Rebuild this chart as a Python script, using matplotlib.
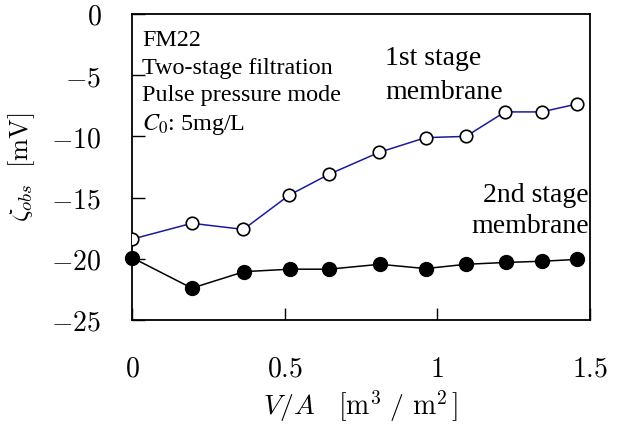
import matplotlib
matplotlib.use("Agg")
import matplotlib.pyplot as plt

plt.rcParams['mathtext.fontset'] = 'cm'

# Data
va_first = [0.0, 0.196, 0.365, 0.515, 0.645, 0.81, 0.962, 1.094, 1.222, 1.342, 1.458]
zeta_first = [-18.4, -17.1, -17.6, -14.8, -13.1, -11.3, -10.1, -10.0, -8.0, -8.0, -7.35]
va_second = [0.0, 0.196, 0.368, 0.517, 0.645, 0.812, 0.962, 1.094, 1.224, 1.344, 1.459]
zeta_second = [-19.9, -22.4, -21.05, -20.85, -20.85, -20.45, -20.8, -20.45, -20.3, -20.2, -20.05]

xticks = [0, 0.5, 1.0, 1.5]
xticklabels = ['0', '0.5', '1', '1.5']
yticks = [0, -5, -10, -15, -20, -25]
yticklabels = ['0', '-5', '-10', '-15', '-20', '-25']

fig = plt.figure(figsize=(6.19, 4.32), dpi=100)
ax = fig.add_axes([0.2132, 0.2593, 0.953 - 0.2132, 0.9676 - 0.2593])

ax.plot(va_first, zeta_first, '-', color='#1a1a9c', lw=1.1, zorder=2)
ax.plot(va_first, zeta_first, 'o', mfc='white', mec='black', mew=1.2, ms=9, zorder=3)
ax.plot(va_second, zeta_second, '-', color='black', lw=1.1, zorder=2)
ax.plot(va_second, zeta_second, 'o', mfc='black', mec='black', ms=10, zorder=3, clip_on=False)

ax.set_xlim(0, 1.5)
ax.set_ylim(-25, 0)
ax.set_xticks(xticks)
ax.set_xticklabels(['$' + t + '$' for t in xticklabels])
ax.set_yticks(yticks)
ax.set_yticklabels(['$' + t + '$' for t in yticklabels])
ax.tick_params(direction='in', length=9, width=1, labelsize=20, pad=22)
ax.tick_params(axis='x', pad=25)
for s in ax.spines.values():
    s.set_linewidth(1.3)

ax.set_xlabel(r'$V/A\quad[\mathrm{m}^{3}\ /\ \mathrm{m}^{2}\,]$', fontsize=20, labelpad=4)
ax.set_ylabel(r'$\zeta_{obs}\ \ [\mathrm{mV}]$', fontsize=19, labelpad=10)

serif = ['Liberation Serif', 'DejaVu Serif']
info = ['FM22', 'Two-stage filtration', 'Pulse pressure mode']
ys = [0.915, 0.822, 0.735]
for t, y in zip(info, ys):
    ax.text(0.022, y, t, transform=ax.transAxes, fontsize=17.4, family=serif, va='center', ha='left')
ax.text(0.022, 0.64, r'$C_0$: 5mg/L', transform=ax.transAxes, fontsize=17.4, family=serif,
        va='center', ha='left', math_fontfamily='stix')

ax.text(0.553, 0.855, '1st stage', transform=ax.transAxes, fontsize=20, family=serif, va='center', ha='left')
ax.text(0.553, 0.745, 'membrane', transform=ax.transAxes, fontsize=20, family=serif, va='center', ha='left')
ax.text(0.997, 0.408, '2nd stage', transform=ax.transAxes, fontsize=20, family=serif, va='center', ha='right')
ax.text(0.997, 0.305, 'membrane', transform=ax.transAxes, fontsize=20, family=serif, va='center', ha='right')

fig.savefig('out.png', dpi=100)
